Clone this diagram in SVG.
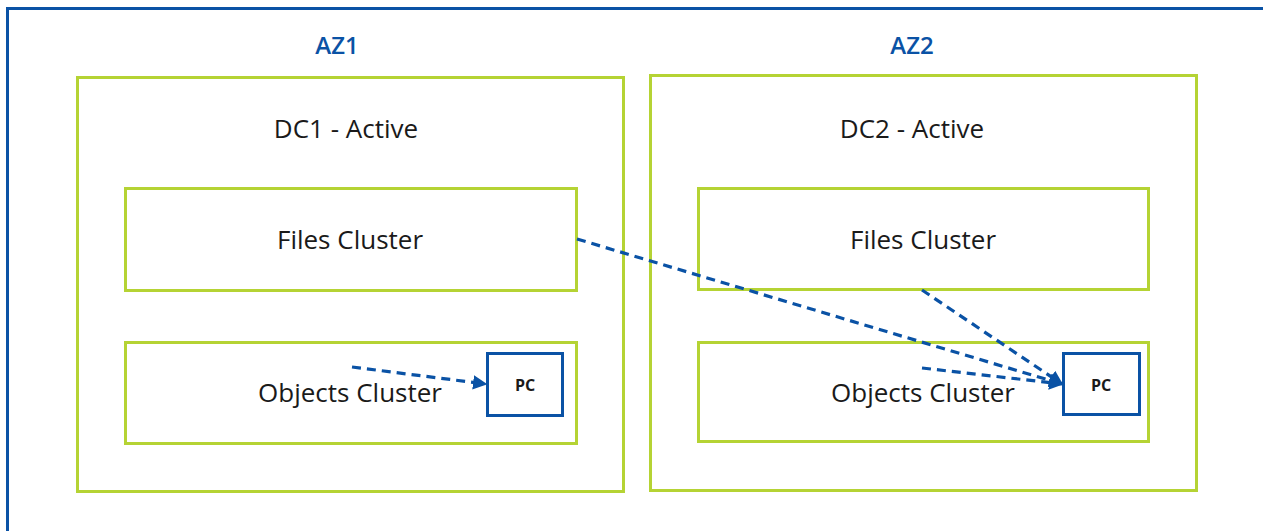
<svg xmlns="http://www.w3.org/2000/svg" width="1263" height="531" viewBox="0 0 1263 531">
<defs>
<style>
.frame{fill:none;stroke:#0a52a5;stroke-width:3}
.box{fill:#fff;stroke:#b5d334;stroke-width:3}
.pc{fill:#fff;stroke:#0a52a5;stroke-width:3}
.lbl{font-family:"Open Sans","Liberation Sans",sans-serif;font-size:26px;font-weight:500;fill:#1a1a1a;text-anchor:middle}
.az{font-family:"Open Sans","Liberation Sans",sans-serif;font-size:24px;font-weight:600;fill:#0a52a5;text-anchor:middle}
.pct{font-family:"Open Sans","Liberation Sans",sans-serif;font-size:16px;font-weight:bold;fill:#1a1a1a;text-anchor:middle}
.edge{fill:none;stroke:#0a52a5;stroke-width:3.2;stroke-dasharray:9 6}
</style>
<marker id="arr" viewBox="0 0 10 10" refX="9" refY="5" markerWidth="4.5" markerHeight="4.5" orient="auto" markerUnits="strokeWidth">
<path d="M0,0 L10,5 L0,10 z" fill="#0a52a5"/>
</marker>
</defs>
<rect width="1263" height="531" fill="#fff"/>
<path class="frame" d="M7.5,540 L7.5,8.5 L1270,8.5"/>
<g id="az1"><text class="az" x="337" y="54">AZ1</text></g>
<g id="az2"><text class="az" x="912" y="54">AZ2</text></g>
<g id="dc1"><rect class="box" x="77.5" y="77.5" width="546" height="414"/><text class="lbl" x="346" y="138">DC1 - Active</text></g>
<g id="dc2"><rect class="box" x="650.5" y="75.5" width="546" height="415"/><text class="lbl" x="912" y="138">DC2 - Active</text></g>
<g id="files1"><rect class="box" x="125.5" y="188.5" width="451" height="102"/><text class="lbl" x="350" y="249">Files Cluster</text></g>
<g id="objects1"><rect class="box" x="125.5" y="342.5" width="451" height="101"/><text class="lbl" x="350" y="402">Objects Cluster</text></g>
<g id="files2"><rect class="box" x="698.5" y="188.5" width="450" height="101"/><text class="lbl" x="923" y="249">Files Cluster</text></g>
<g id="objects2"><rect class="box" x="698.5" y="342.5" width="450" height="99"/><text class="lbl" x="923" y="402">Objects Cluster</text></g>
<g id="pc1"><rect class="pc" x="487.5" y="353.5" width="75" height="62"/><text class="pct" x="525" y="391">PC</text></g>
<g id="pc2"><rect class="pc" x="1063.5" y="353.5" width="76" height="61"/><text class="pct" x="1101" y="391">PC</text></g>
<g id="connectors">
<path class="edge" marker-end="url(#arr)" d="M352,367 L486,384"/>
<path class="edge" marker-end="url(#arr)" d="M577,239 L1062,384"/>
<path class="edge" marker-end="url(#arr)" d="M922,290 L1062,384"/>
<path class="edge" marker-end="url(#arr)" d="M922,368 L1062,384"/>
</g>
</svg>
